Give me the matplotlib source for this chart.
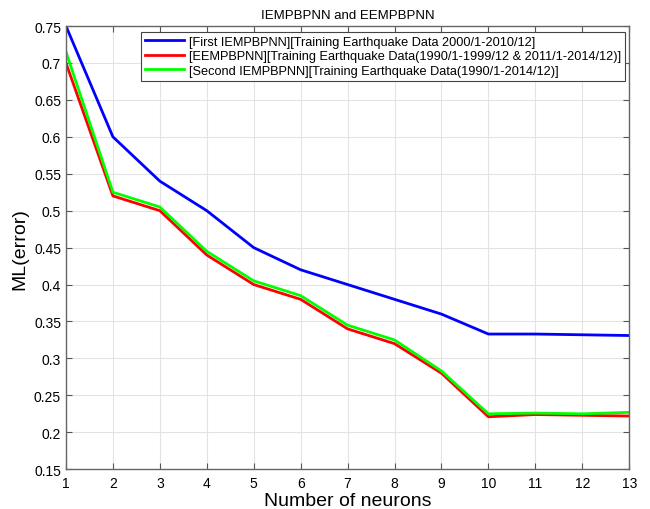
import matplotlib
matplotlib.use('Agg')
import matplotlib.pyplot as plt

# ── Data ──────────────────────────────────────────────────────────────────────
neurons = list(range(1, 14))
first_iempbpnn = [0.75, 0.60, 0.54, 0.50, 0.45, 0.42, 0.40, 0.38, 0.36, 0.333, 0.333, 0.332, 0.331]
eempbpnn = [0.70, 0.52, 0.50, 0.44, 0.40, 0.38, 0.34, 0.32, 0.28, 0.221, 0.224, 0.223, 0.222]
second_iempbpnn = [0.715, 0.525, 0.505, 0.445, 0.405, 0.385, 0.345, 0.325, 0.283, 0.225, 0.226, 0.225, 0.227]

labels = ['[First IEMPBPNN][Training Earthquake Data 2000/1-2010/12]',
          '[EEMPBPNN][Training Earthquake Data(1990/1-1999/12 & 2011/1-2014/12)]',
          '[Second IEMPBPNN][Training Earthquake Data(1990/1-2014/12)]']
yticks = [0.15, 0.2, 0.25, 0.3, 0.35, 0.4, 0.45, 0.5, 0.55, 0.6, 0.65, 0.7, 0.75]

# ── Style & Layout ────────────────────────────────────────────────────────────
plt.rcParams['font.family'] = ['Liberation Sans', 'DejaVu Sans']
fig = plt.figure(figsize=(6.5, 5.1), dpi=100)
ax = fig.add_axes([0.1015, 0.078, 0.8665, 0.869])

ax.plot(neurons, first_iempbpnn, color='#0000ff', lw=2, label=labels[0])
ax.plot(neurons, eempbpnn, color='#ff0000', lw=2, label=labels[1])
ax.plot(neurons, second_iempbpnn, color='#00ff00', lw=2, label=labels[2])

ax.set_xlim(1, 13)
ax.set_ylim(0.15, 0.75)
ax.set_xticks(neurons)
ax.set_yticks(yticks)
ax.set_yticklabels([('%g' % v) for v in yticks])
ax.tick_params(direction='in', labelsize=10, length=4, color='#555555', top=True, right=True)
ax.tick_params(axis='x', pad=5)
ax.grid(True, color='#e3e3e3', lw=0.8)
for s in ax.spines.values():
    s.set_color('#666666')
    s.set_linewidth(1.0)

ax.set_title('IEMPBPNN and EEMPBPNN', fontsize=9.5, pad=6)
ax.set_xlabel('Number of neurons', fontsize=14, labelpad=1)
ax.set_ylabel('ML(error)', fontsize=14, labelpad=4)

leg = ax.legend(loc='upper right', bbox_to_anchor=(0.993, 0.9865), fontsize=9.2,
                fancybox=False, framealpha=1, edgecolor='#444444',
                handlelength=3.05, borderpad=0.3, labelspacing=0.2, handletextpad=0.4,
                borderaxespad=0)
leg.get_frame().set_linewidth(0.8)

fig.savefig('out.png', dpi=100, facecolor='white')
